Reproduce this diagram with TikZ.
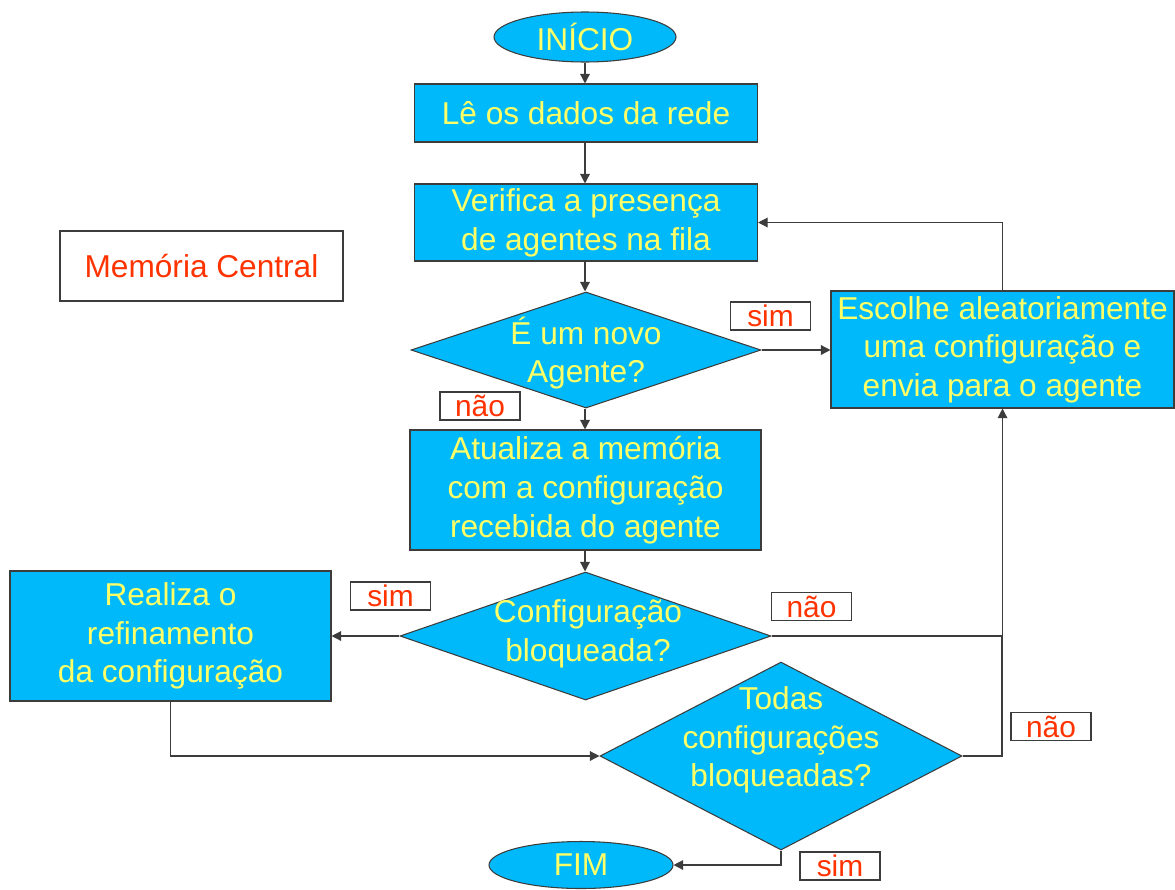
\documentclass[tikz,border=0pt]{standalone}
\usepackage{fontspec}
\setmainfont{Liberation Sans}
\usetikzlibrary{shapes.geometric,arrows.meta}
\definecolor{boxfill}{RGB}{0,185,250}
\definecolor{boxtext}{RGB}{255,255,102}
\definecolor{labred}{RGB}{255,51,0}
\definecolor{edge}{RGB}{60,60,60}
\tikzset{
  flow/.style={draw=edge,line width=0.6pt,fill=boxfill,text=boxtext,inner sep=0pt,
    font=\fontsize{18}{22}\selectfont,align=center},
  procbox/.style={flow,rectangle},
  termnode/.style={flow,ellipse},
  decide/.style={flow,diamond},
  dtext/.style={text=boxtext,font=\fontsize{18}{22}\selectfont,align=center,inner sep=0pt},
  tag/.style={draw=edge,line width=0.6pt,fill=white,text=labred,inner sep=0pt,
    font=\fontsize{17}{20}\selectfont,minimum width=80\px,minimum height=28\px},
  conn/.style={draw=edge,line width=0.75pt,-{Triangle[length=5.5pt,width=5.5pt]}},
  plain/.style={draw=edge,line width=0.75pt},
}
\newlength{\px}
\setlength{\px}{0.02cm}
\begin{document}
\begin{tikzpicture}[x=0.02cm,y=-0.02cm]
\useasboundingbox (0,0) rectangle (1175,889);

% terminals and process boxes
\node[termnode,minimum width=182\px,minimum height=50\px] (start) at (585,37) {INÍCIO};
\node[procbox,minimum width=343\px,minimum height=58\px] (le) at (586,113) {Lê os dados da rede};
\node[procbox,minimum width=343\px,minimum height=77\px] (verif) at (586,222.5)
  {Verifica a presença\\ de agentes na fila};
\node[procbox,minimum width=343\px,minimum height=117\px] (escolhe) at (1002.5,349.5)
  {Escolhe aleatoriamente\\ uma configuração e\\ envia para o agente};
\node[procbox,minimum width=351\px,minimum height=120\px] (atual) at (585.5,490)
  {Atualiza a memória\\ com a configuração\\ recebida do agente};
\node[procbox,minimum width=321\px,minimum height=130\px] (refina) at (170.5,636)
  {Realiza o\\ refinamento\\ da configuração};
\node[termnode,minimum width=184\px,minimum height=47\px] (fim) at (581,865) {FIM};

% decisions (shape first, then its text)
\node[decide,minimum width=350\px,minimum height=116\px] (d1) at (586,350) {};
\node[dtext] at (586,353) {É um novo\\ Agente?};
\node[decide,minimum width=371\px,minimum height=128\px] (d2) at (585.5,636) {};
\node[dtext] at (588,634) {Configuração\\ bloqueada?};
\node[decide,minimum width=362\px,minimum height=188\px] (d3) at (781,756) {};
\node[dtext] at (781,740) {Todas\\ configurações\\ bloqueadas?};

% side note
\node[draw=edge,line width=0.6pt,fill=white,text=labred,inner sep=0pt,
  font=\fontsize{18}{22}\selectfont,minimum width=283\px,minimum height=70\px]
  (mem) at (201.5,266) {Memória Central};

% answer tags
\node[tag] (s1) at (770.5,316) {sim};
\node[tag] (n1) at (480,406) {não};
\node[tag] (s2) at (390.5,596) {sim};
\node[tag] (n2) at (811.5,606.5) {não};
\node[tag] (n3) at (1051,726.5) {não};
\node[tag] (s3) at (840,866) {sim};

\coordinate (join) at (1002,636);

% connectors
\draw[conn] (start) -- (start |- le.north);
\draw[conn] (le.south -| start) -- (verif.north -| start);
\draw[conn] (verif.south -| start) -- (d1.north -| start);
\draw[conn] (d1.east) -- (escolhe.west |- d1.east);
\draw[conn] (escolhe.north) |- (verif.east);
\draw[conn] (d1.south -| start) -- (atual.north -| start);
\draw[conn] (atual.south -| start) -- (d2.north -| start);
\draw[conn] (d2.west) -- (refina.east |- d2.west);
\draw[conn] (d2.east) -| (escolhe.south);
\draw[plain] (d3.east) -| (join);
\draw[conn] (refina.south) |- (d3.west);
\draw[conn] (d3.south) |- (fim.east);
\end{tikzpicture}
\end{document}
